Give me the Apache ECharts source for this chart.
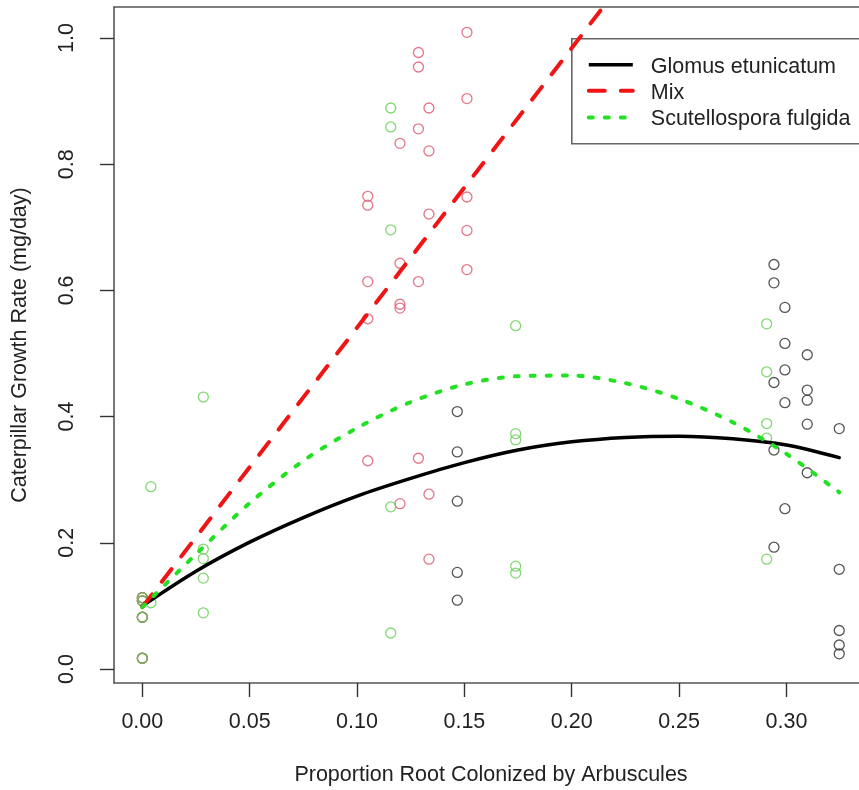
<!DOCTYPE html>
<html>
<head>
<meta charset="utf-8">
<script src="https://cdn.jsdelivr.net/npm/echarts@6/dist/echarts.min.js"></script>
<style>
html,body{margin:0;padding:0;background:#fff;}
#c{width:859px;height:790px;}
</style>
</head>
<body>
<div id="c"></div>
<script>
// ---- data ----
const seriesNames = ['Glomus etunicatum', 'Mix', 'Scutellospora fulgida'];

const glomusX = [0, 0, 0, 0,
  0.1467, 0.1467, 0.1467, 0.1467, 0.1467,
  0.2942, 0.2942, 0.2942, 0.2942, 0.2942,
  0.2993, 0.2993, 0.2993, 0.2993, 0.2993,
  0.3097, 0.3097, 0.3097, 0.3097, 0.3097,
  0.3246, 0.3246, 0.3246, 0.3246, 0.3246];
const glomusY = [0.113, 0.108, 0.082, 0.017,
  0.408, 0.344, 0.266, 0.153, 0.109,
  0.641, 0.612, 0.454, 0.347, 0.193,
  0.573, 0.516, 0.474, 0.422, 0.254,
  0.498, 0.442, 0.426, 0.388, 0.311,
  0.381, 0.158, 0.061, 0.038, 0.024];

const mixX = [0, 0, 0, 0,
  0.105, 0.105, 0.105, 0.105, 0.105,
  0.120, 0.120, 0.120, 0.120, 0.120,
  0.1286, 0.1286, 0.1286, 0.1286, 0.1286,
  0.1335, 0.1335, 0.1335, 0.1335, 0.1335,
  0.1512, 0.1512, 0.1512, 0.1512, 0.1512];
const mixY = [0.113, 0.108, 0.082, 0.017,
  0.749, 0.735, 0.614, 0.555, 0.330,
  0.833, 0.643, 0.578, 0.572, 0.262,
  0.977, 0.954, 0.856, 0.614, 0.334,
  0.889, 0.821, 0.721, 0.277, 0.174,
  1.009, 0.904, 0.748, 0.695, 0.633];

const scutX = [0, 0, 0, 0,
  0.004, 0.004,
  0.0284, 0.0284, 0.0284, 0.0284, 0.0284,
  0.1157, 0.1157, 0.1157, 0.1157, 0.1157,
  0.1739, 0.1739, 0.1739, 0.1739, 0.1739,
  0.2908, 0.2908, 0.2908, 0.2908, 0.2908];
const scutY = [0.113, 0.108, 0.082, 0.017,
  0.289, 0.105,
  0.431, 0.190, 0.175, 0.144, 0.089,
  0.889, 0.859, 0.696, 0.257, 0.057,
  0.544, 0.373, 0.363, 0.163, 0.152,
  0.547, 0.471, 0.389, 0.366, 0.174];

// fitted curves
const fitX = [0, 0.025, 0.05, 0.075, 0.10, 0.125, 0.15, 0.175, 0.20, 0.225, 0.25, 0.275, 0.30, 0.3246];
const glomusFit = [0.100, 0.155, 0.201, 0.240, 0.274, 0.302, 0.327, 0.347, 0.360, 0.367, 0.369, 0.365, 0.355, 0.335];
const scutFit   = [0.098, 0.182, 0.263, 0.330, 0.382, 0.423, 0.451, 0.464, 0.465, 0.453, 0.428, 0.391, 0.341, 0.280];
const mixFitX = [0, 0.05, 0.10, 0.15, 0.20, 0.22];
const mixFit  = [0.098, 0.320, 0.541, 0.763, 0.984, 1.073];

const xTicks = [0, 0.05, 0.10, 0.15, 0.20, 0.25, 0.30];
const yTicks = [0, 0.2, 0.4, 0.6, 0.8, 1.0];

// ---- build ----
const pair = (xs, ys) => xs.map((x, i) => [x, ys[i]]);
const FONT = 'Liberation Sans, Arial, Helvetica, sans-serif';
const FS = 21.5;
const axisCol = '#555';
const txtCol = '#222';

const chart = echarts.init(document.getElementById('c'), null, {renderer: 'canvas'});

function scatter(name, xs, ys, col) {
  return {
    type: 'scatter', name: name, data: pair(xs, ys),
    symbol: 'circle', symbolSize: 10,
    itemStyle: {color: 'rgba(0,0,0,0)', borderColor: col, borderWidth: 1.3},
    emphasis: {disabled: true}, z: 2
  };
}
function fitLine(name, xs, ys, col, width, dash, smooth) {
  return {
    type: 'line', name: name, data: pair(xs, ys),
    symbol: 'none', smooth: smooth, clip: true,
    lineStyle: {color: col, width: width, type: dash, cap: 'round', join: 'round'},
    emphasis: {disabled: true}, z: 3
  };
}

const option = {
  animation: false,
  backgroundColor: '#fff',
  grid: {left: 114, top: 7, width: 754, height: 676, containLabel: false, outerBoundsMode: 'none'},
  xAxis: [{
    type: 'value', min: -0.0132, max: 0.338, position: 'bottom',
    axisLine: {show: true, onZero: false, lineStyle: {color: axisCol, width: 1.6}},
    axisTick: {show: true, inside: false, length: 14, customValues: xTicks, lineStyle: {color: '#333', width: 1.4}},
    axisLabel: {customValues: xTicks, formatter: v => v.toFixed(2), fontSize: FS, color: txtCol, margin: 28, fontFamily: FONT},
    splitLine: {show: false},
    name: 'Proportion Root Colonized by Arbuscules', nameLocation: 'middle', nameGap: 81,
    nameTextStyle: {fontSize: FS, color: txtCol, fontFamily: FONT}
  }, {
    type: 'value', min: -0.0132, max: 0.338, position: 'top',
    axisLine: {show: true, onZero: false, lineStyle: {color: axisCol, width: 1.6}},
    axisTick: {show: false}, axisLabel: {show: false}, splitLine: {show: false}
  }],
  yAxis: [{
    type: 'value', min: -0.0222, max: 1.0491, position: 'left',
    axisLine: {show: true, onZero: false, lineStyle: {color: axisCol, width: 1.6}},
    axisTick: {show: true, inside: false, length: 14, customValues: yTicks, lineStyle: {color: '#333', width: 1.4}},
    axisLabel: {customValues: yTicks, formatter: v => v.toFixed(1), rotate: 90, fontSize: FS, color: txtCol, margin: 36, fontFamily: FONT},
    splitLine: {show: false},
    name: 'Caterpillar Growth Rate (mg/day)', nameLocation: 'middle', nameGap: 83, nameRotate: 90,
    nameTextStyle: {fontSize: FS, color: txtCol, fontFamily: FONT}
  }],
  series: [
    scatter(seriesNames[0], glomusX, glomusY, '#2b2b2b'),
    scatter(seriesNames[1], mixX, mixY, '#DF536B'),
    scatter(seriesNames[2], scutX, scutY, '#61D04F'),
    fitLine(seriesNames[0], fitX, glomusFit, '#000000', 3.5, 'solid', 0.3),
    fitLine(seriesNames[1], mixFitX, mixFit, '#f01414', 4, [16, 16], false),
    fitLine(seriesNames[2], fitX, scutFit, '#22e022', 4, [4, 12], 0.3)
  ],
  graphic: [{
    type: 'group', left: 571, top: 38,
    children: [
      {type: 'rect', shape: {x: 0, y: 0, width: 300, height: 105}, style: {fill: 'rgba(0,0,0,0)', stroke: '#666', lineWidth: 1.6}},
      {type: 'line', shape: {x1: 17, y1: 26, x2: 61, y2: 26}, style: {stroke: '#000', lineWidth: 3.5}},
      {type: 'line', shape: {x1: 17, y1: 52, x2: 61, y2: 52}, style: {stroke: '#f01414', lineWidth: 4, lineDash: [16, 16], lineCap: 'round'}},
      {type: 'line', shape: {x1: 17, y1: 78.7, x2: 61, y2: 78.7}, style: {stroke: '#22e022', lineWidth: 4, lineDash: [4, 12], lineCap: 'round'}},
      {type: 'text', x: 79, y: 28, style: {text: seriesNames[0], fontSize: FS, fontFamily: FONT, fill: txtCol, verticalAlign: 'middle'}},
      {type: 'text', x: 79, y: 54, style: {text: seriesNames[1], fontSize: FS, fontFamily: FONT, fill: txtCol, verticalAlign: 'middle'}},
      {type: 'text', x: 79, y: 80, style: {text: seriesNames[2], fontSize: FS, fontFamily: FONT, fill: txtCol, verticalAlign: 'middle'}}
    ]
  }]
};
chart.setOption(option);
</script>
</body>
</html>
